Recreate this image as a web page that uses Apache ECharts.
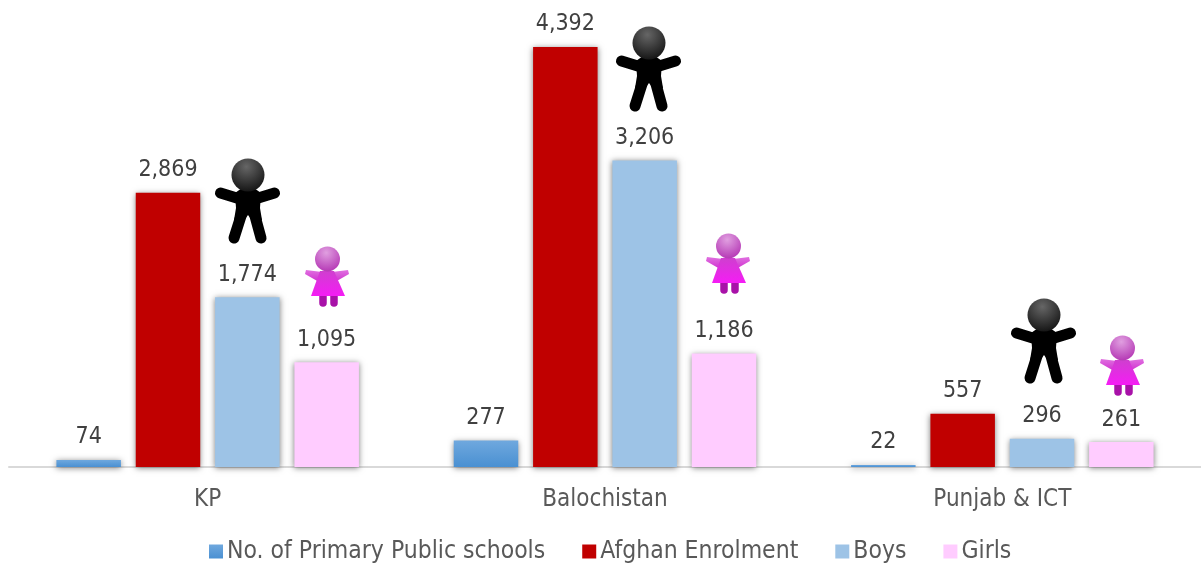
<!DOCTYPE html>
<html><head><meta charset="utf-8">
<script src="https://cdn.jsdelivr.net/npm/echarts@6/dist/echarts.min.js"></script>
<style>html,body{margin:0;padding:0;background:#fff}#c{width:1201px;height:564px}</style>
</head><body><div id="c"></div>
<script>
const categories = ['KP', 'Balochistan', 'Punjab & ICT'];
const schools = [74, 277, 22];
const enrolment = [2869, 4392, 557];
const boys = [1774, 3206, 296];
const girls = [1095, 1186, 261];

const FONT = 'DejaVu Sans Condensed';
const boyIconSpots = [[215,158],[616,26],[1011,298]];
const girlIconSpots = [[305,246],[706,233],[1100,335]];

const vgrad = (a,b) => new echarts.graphic.LinearGradient(0,0,0,1,[{offset:0,color:a},{offset:1,color:b}]);
const rgrad = (a,b) => new echarts.graphic.RadialGradient(0.45,0.25,0.85,[{offset:0,color:a},{offset:1,color:b}]);

function limb(x1,y1,x2,y2,w,color){
  return {type:'line',shape:{x1,y1,x2,y2},style:{stroke:color,lineWidth:w,lineCap:'round'}};
}
function boyIcon(p){
  const c='#000';
  return {type:'group',x:p[0],y:p[1],children:[
    limb(5.5,35,25,41,11,c), limb(59.5,35,40,41,11,c),
    limb(26,58,19,80,11,c), limb(40,58,46,80,11,c),
    {type:'polygon',shape:{points:[[20,35],[27,30],[39,30],[46,35],[45,50],[47,62],[38,64],[33,57],[28,64],[19,62],[21,50]]},style:{fill:c}},
    {type:'circle',shape:{cx:33,cy:17,r:16.5},style:{fill:rgrad('#666666','#0c0c0c')}}
  ]};
}
function girlIcon(p){
  return {type:'group',x:p[0],y:p[1],children:[
    {type:'polygon',shape:{points:[[1,24],[17,26],[27,26],[43,24],[44,28],[30,36],[14,36],[0,28]]},style:{fill:vgrad('#e070e0','#cf30cf')}},
    limb(18,50,18,57,7.5,'#a811a8'), limb(29,50,29,57,7.5,'#a811a8'),
    {type:'polygon',shape:{points:[[15,25],[29,25],[40,50],[6,50]]},style:{fill:vgrad('#cf3fcf','#f51cf5')}},
    {type:'circle',shape:{cx:22.5,cy:13,r:12.5},style:{fill:rgrad('#e09fe0','#b02cb0')}}
  ]};
}

function bar(name,data,color){
  return {
    name,type:'bar',data,barWidth:64.5,barGap:'23%',
    itemStyle:{color,shadowBlur:6,shadowColor:'rgba(0,0,0,0.5)',shadowOffsetX:0,shadowOffsetY:1},
    label:{show:true,position:'top',distance:11,fontFamily:FONT,fontSize:23,color:'#404040',
      formatter:p=>p.value.toLocaleString('en-US')}
  };
}

const chart = echarts.init(document.getElementById('c'),null,{renderer:'canvas'});
chart.setOption({
  animation:false,
  grid:{left:9,width:1192,top:7,height:460},
  xAxis:{type:'category',data:categories,
    axisLine:{lineStyle:{color:'#d9d9d9',width:2}},axisTick:{show:false},
    axisLabel:{fontFamily:FONT,fontSize:24,color:'#595959',margin:21}},
  yAxis:{type:'value',min:0,max:4810,show:false,splitLine:{show:false}},
  legend:{top:534,left:204,itemWidth:14,itemHeight:14,itemGap:37,icon:'rect',
    textStyle:{fontFamily:FONT,fontSize:24.5,color:'#595959',padding:[0,0,0,-1]},
    itemStyle:{shadowBlur:0,shadowOffsetY:0}},
  series:[
    bar('No. of Primary Public schools',schools,vgrad('#6fa8de','#4a90d2')),
    bar('Afghan Enrolment',enrolment,'#c00000'),
    bar('Boys',boys,'#9dc3e6'),
    bar('Girls',girls,'#ffccff')
  ],
  graphic:boyIconSpots.map(boyIcon).concat(girlIconSpots.map(girlIcon))
});
</script></body></html>
